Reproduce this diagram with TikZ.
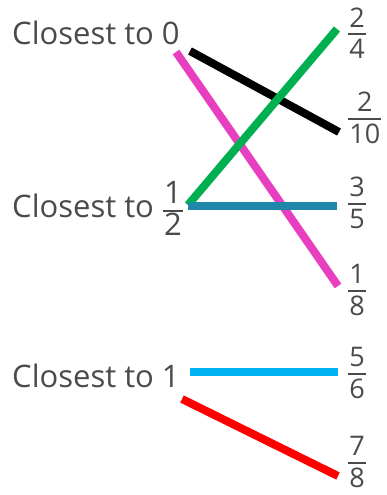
\documentclass[tikz,border=0pt]{standalone}
\usepackage{fontspec}
\setmainfont{Open Sans}
\definecolor{txt}{HTML}{4A4A4A}
\definecolor{lgreen}{HTML}{00B050}
\definecolor{lmag}{HTML}{E83EC0}
\definecolor{lteal}{HTML}{1F88A8}
\definecolor{lcyan}{HTML}{00B0F0}
\definecolor{lred}{HTML}{FF0000}
\newcommand\myfr[2]{$\mbox{\kern1pt\rule[-4.3pt]{0pt}{4.3pt}#1\kern1pt}\above 1.8pt\mbox{\kern1pt\rule{0pt}{21.6pt}#2\kern1pt}$}
\tikzset{
  lbl/.style={anchor=base west, inner sep=0pt, text=txt, font=\fontsize{31}{36}\selectfont},
  frc/.style={anchor=west, inner sep=0pt, text=txt, font=\fontsize{27}{32}\selectfont},
  conn/.style={line width=8pt, line cap=butt}
}
\begin{document}
\begin{tikzpicture}[x=1pt,y=-1pt]
\useasboundingbox (0,0) rectangle (386,495);
% left labels
\node[lbl] (c0) at (12,45) {Closest to 0};
\node[lbl] (ch) at (12,217) {Closest to \myfr{1}{2}};
\node[lbl] (c1) at (12,387) {Closest to 1};
% right fractions
\node[frc] (f24) at (347,33) {\myfr{2}{4}};
\node[frc] (f210) at (347,118) {\myfr{2}{10}};
\node[frc] (f35) at (347,203) {\myfr{3}{5}};
\node[frc] (f18) at (347,290) {\myfr{1}{8}};
\node[frc] (f56) at (347,373) {\myfr{5}{6}};
\node[frc] (f78) at (347,462) {\myfr{7}{8}};
% connector starts
\coordinate (s0a) at (190,51);
\coordinate (s0b) at (176,52);
\coordinate (sh) at (188,206);
\coordinate (s1a) at (190,372);
\coordinate (s1b) at (182,399);
% connectors
\draw[conn, black] (s0a) -- ([shift={(-8,14)}]f210.west);
\draw[conn, lmag] (s0b) -- ([shift={(-9,-4)}]f18.west);
\draw[conn, lgreen] ([shift={(0,-1)}]sh) -- ([shift={(-10,-4)}]f24.west);
\draw[conn, lteal] (sh) -- ([shift={(-10,3)}]f35.west);
\draw[conn, lcyan] (s1a) -- ([shift={(-9,-1)}]f56.west);
\draw[conn, lred] (s1b) -- ([shift={(-9,14)}]f78.west);
\end{tikzpicture}
\end{document}
